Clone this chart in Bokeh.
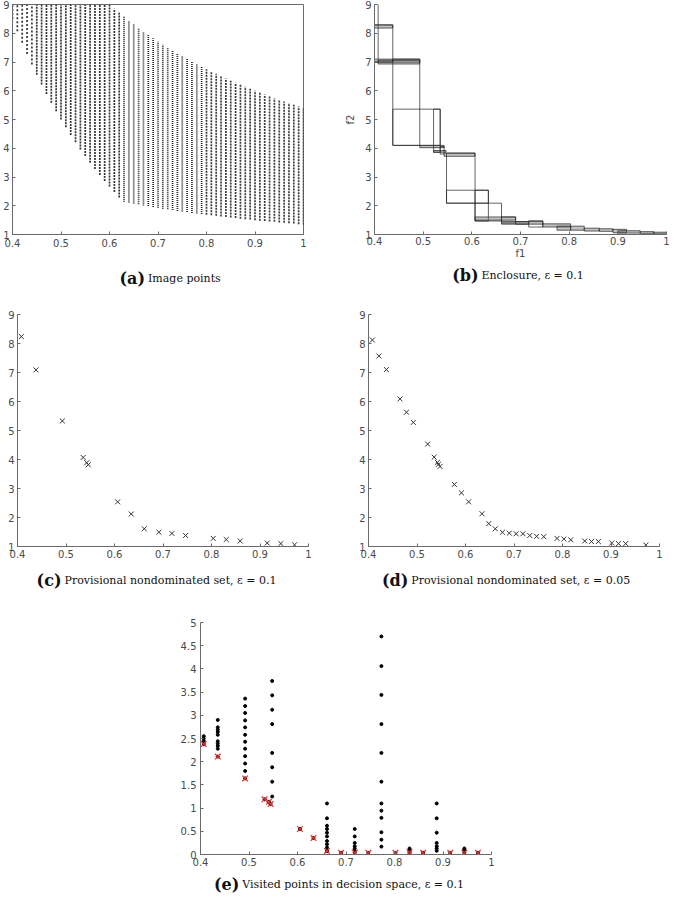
from bokeh.plotting import figure
from bokeh.models import FixedTicker, Range1d, Spacer, ColumnDataSource
from bokeh.layouts import column, row
from bokeh.core.properties import value
from bokeh.embed import file_html
from bokeh.resources import INLINE

# ---------------- data ----------------
x_ticks = [0.4, 0.5, 0.6, 0.7, 0.8, 0.9, 1.0]
f_y_ticks = [1, 2, 3, 4, 5, 6, 7, 8, 9]
e_y_ticks = [0, 0.5, 1, 1.5, 2, 2.5, 3, 3.5, 4, 4.5, 5]

img_f1 = [0.40, 0.41, 0.42, 0.43, 0.44, 0.45, 0.46, 0.47, 0.48, 0.49,
          0.50, 0.51, 0.52, 0.53, 0.54, 0.55, 0.56, 0.57, 0.58, 0.59,
          0.60, 0.61, 0.62, 0.63, 0.64, 0.65, 0.66, 0.67, 0.68, 0.69,
          0.70, 0.71, 0.72, 0.73, 0.74, 0.75, 0.76, 0.77, 0.78, 0.79,
          0.80, 0.81, 0.82, 0.83, 0.84, 0.85, 0.86, 0.87, 0.88, 0.89,
          0.90, 0.91, 0.92, 0.93, 0.94, 0.95, 0.96, 0.97, 0.98, 0.99, 1.00]
img_lo = [8.50, 8.07, 7.67, 7.28, 6.91, 6.56, 6.22, 5.89, 5.58, 5.29,
          5.00, 4.73, 4.46, 4.21, 3.96, 3.73, 3.50, 3.28, 3.07, 2.86,
          2.67, 2.48, 2.29, 2.14, 2.11, 2.08, 2.05, 2.01, 1.99, 1.96,
          1.93, 1.90, 1.88, 1.85, 1.82, 1.80, 1.78, 1.75, 1.73, 1.71,
          1.69, 1.67, 1.65, 1.63, 1.61, 1.59, 1.57, 1.55, 1.53, 1.52,
          1.50, 1.48, 1.47, 1.45, 1.44, 1.42, 1.41, 1.39, 1.38, 1.36, 1.35]
img_hi = [9.00, 9.00, 9.00, 9.00, 9.00, 9.00, 9.00, 9.00, 9.00, 9.00,
          9.00, 9.00, 9.00, 9.00, 9.00, 9.00, 9.00, 9.00, 9.00, 9.00,
          9.00, 8.85, 8.71, 8.57, 8.44, 8.31, 8.18, 8.06, 7.94, 7.83,
          7.71, 7.61, 7.50, 7.40, 7.30, 7.20, 7.11, 7.01, 6.92, 6.84,
          6.75, 6.67, 6.59, 6.51, 6.43, 6.35, 6.28, 6.21, 6.14, 6.07,
          6.00, 5.93, 5.87, 5.81, 5.74, 5.68, 5.63, 5.57, 5.51, 5.45, 5.40]

# (b) enclosure boxes
box_l = [0.400, 0.400, 0.400, 0.4075, 0.400, 0.4376, 0.4376, 0.493, 0.5214, 0.5214,
         0.535, 0.543, 0.548, 0.548, 0.6066, 0.6066, 0.6066, 0.661, 0.661, 0.690,
         0.717, 0.746, 0.775, 0.803, 0.831, 0.862, 0.890, 0.900, 0.946, 0.974]
box_r = [0.4075, 0.4376, 0.493, 0.493, 0.4376, 0.493, 0.535, 0.543, 0.535, 0.547,
         0.543, 0.6066, 0.6066, 0.634, 0.661, 0.634, 0.690, 0.717, 0.690, 0.746,
         0.746, 0.803, 0.803, 0.831, 0.862, 0.890, 0.918, 0.946, 0.974, 1.000]
box_b = [6.99, 8.18, 6.99, 6.93, 7.00, 4.10, 4.10, 4.02, 3.86, 3.86,
         3.80, 3.72, 2.09, 2.09, 1.47, 1.47, 1.50, 1.36, 1.40, 1.36,
         1.26, 1.26, 1.15, 1.15, 1.12, 1.11, 1.06, 1.05, 1.04, 1.02]
box_t = [9.00, 8.29, 7.10, 7.06, 8.29, 7.10, 5.36, 4.10, 5.36, 3.92,
         4.06, 3.83, 3.83, 2.54, 2.09, 2.54, 1.61, 1.45, 1.61, 1.45,
         1.48, 1.37, 1.29, 1.29, 1.22, 1.20, 1.18, 1.13, 1.10, 1.08]

# (c) provisional nondominated set, eps = 0.1
c_f1 = [0.408, 0.438, 0.4925, 0.5354, 0.5428, 0.546, 0.6065, 0.6346, 0.6614,
        0.6916, 0.7184, 0.7466, 0.8036, 0.8304, 0.8592, 0.9149, 0.943, 0.9712]
c_f2 = [8.24, 7.09, 5.33, 4.07, 3.89, 3.82, 2.54, 2.12, 1.61,
        1.49, 1.45, 1.38, 1.28, 1.24, 1.19, 1.12, 1.10, 1.06]

# (d) provisional nondominated set, eps = 0.05
d_f1 = [0.408, 0.4214, 0.4369, 0.465, 0.4784, 0.4925, 0.522, 0.5354, 0.542, 0.544,
        0.5475, 0.577, 0.5917, 0.6065, 0.634, 0.648, 0.6614, 0.6762, 0.6903, 0.7044,
        0.7184, 0.7325, 0.7466, 0.7613, 0.7888, 0.8029, 0.817, 0.8458, 0.8599, 0.874,
        0.9015, 0.9155, 0.9303, 0.9718]
d_f2 = [8.12, 7.57, 7.10, 6.09, 5.63, 5.28, 4.53, 4.08, 3.90, 3.83,
        3.76, 3.14, 2.85, 2.54, 2.13, 1.79, 1.61, 1.49, 1.46, 1.44,
        1.44, 1.38, 1.35, 1.34, 1.28, 1.26, 1.23, 1.19, 1.17, 1.17,
        1.12, 1.10, 1.10, 1.05]

# (e) visited points in decision space (columns of x1 with visited x2 values)
e_cols = [0.4067, 0.4356, 0.492, 0.5478, 0.6608, 0.718, 0.773, 0.831, 0.887, 0.944]
e_col_x2 = [
    [2.55, 2.50, 2.45],
    [2.90, 2.74, 2.69, 2.64, 2.58, 2.44, 2.39, 2.34, 2.28],
    [3.36, 3.20, 3.05, 2.89, 2.74, 2.58, 2.43, 2.28, 2.12, 1.96, 1.80],
    [3.74, 3.43, 3.12, 2.81, 2.19, 1.88, 1.57, 1.25],
    [1.10, 0.78, 0.62, 0.55, 0.47, 0.39, 0.29, 0.22, 0.15],
    [0.55, 0.39, 0.25, 0.18, 0.13, 0.08],
    [4.70, 4.06, 3.44, 2.81, 2.19, 1.57, 1.10, 0.945, 0.79, 0.48, 0.32, 0.17],
    [0.13, 0.10, 0.08],
    [1.10, 0.78, 0.47, 0.25, 0.18, 0.13, 0.08],
    [0.13, 0.10, 0.08],
]
e_nd_x1 = [0.4067, 0.4356, 0.492, 0.532, 0.541, 0.5445, 0.605, 0.633, 0.6608,
           0.690, 0.718, 0.746, 0.802, 0.831, 0.859, 0.915, 0.944, 0.972]
e_nd_x2 = [2.38, 2.11, 1.64, 1.19, 1.135, 1.086, 0.55, 0.353, 0.078,
           0.035, 0.042, 0.035, 0.035, 0.05, 0.035, 0.035, 0.042, 0.035]

# captions: (tag, text)
cap_a = ("(a)", "Image points")
cap_b = ("(b)", "Enclosure, \u03b5 = 0.1")
cap_c = ("(c)", "Provisional nondominated set, \u03b5 = 0.1")
cap_d = ("(d)", "Provisional nondominated set, \u03b5 = 0.05")
cap_e = ("(e)", "Visited points in decision space, \u03b5 = 0.1")

# ---------------- styling ----------------
AXC = "#6b6b6b"
LBLC = "#4a4a4a"
INK = "#333333"
CAP = "#111111"
W = 669


def new_fig(w, h, yr, bl, br, bt, bb):
    p = figure(width=w, height=h, x_range=Range1d(0.4, 1.0), y_range=Range1d(*yr),
               output_backend="svg", toolbar_location=None,
               min_border_left=bl, min_border_right=br,
               min_border_top=bt, min_border_bottom=bb)
    p.xgrid.visible = False
    p.ygrid.visible = False
    p.outline_line_color = None
    p.background_fill_color = "white"
    p.border_fill_color = "white"
    return p


def style_axis(ax, ticks, overrides, standoff=3):
    ax.ticker = FixedTicker(ticks=ticks)
    if overrides:
        ax.major_label_overrides = overrides
    ax.axis_line_color = AXC
    ax.axis_line_width = 1
    ax.major_tick_line_color = AXC
    ax.minor_tick_line_color = None
    ax.major_tick_in = 3
    ax.major_tick_out = 0
    ax.major_label_standoff = standoff
    ax.major_label_text_font = "DejaVu Sans"
    ax.major_label_text_font_size = "10px"
    ax.major_label_text_color = LBLC


def caption_fig(h, items):
    """items: (x_split_px, baseline_px, (tag, text)) in this strip's pixel frame"""
    p = figure(width=W, height=h, x_range=Range1d(0, W), y_range=Range1d(h, 0),
               output_backend="svg", toolbar_location=None, min_border=0,
               x_axis_location=None, y_axis_location=None)
    p.xgrid.visible = False
    p.ygrid.visible = False
    p.outline_line_color = None
    p.border_fill_color = "white"
    for xs, yb, (tag, text) in items:
        p.text(x=[xs - 1.5], y=[yb], text=[tag], text_align="right", text_baseline="alphabetic",
               text_font=value("DejaVu Serif"), text_font_style="bold",
               text_font_size="16px", text_color=CAP)
        p.text(x=[xs + 1.5], y=[yb], text=[text], text_align="left", text_baseline="alphabetic",
               text_font=value("DejaVu Serif"), text_font_style="normal",
               text_font_size="11px", text_color=CAP)
    return p


x_over = {1.0: "1"}
e_y_over = {0.0: "0", 1.0: "1", 2.0: "2", 3.0: "3", 4.0: "4", 5.0: "5"}

# ---------------- (a) ----------------
pa = new_fig(333, 261, (1, 9), 10, 30, 4, 26)
pa.outline_line_color = AXC
style_axis(pa.xaxis[0], x_ticks, x_over, standoff=4)
style_axis(pa.yaxis[0], f_y_ticks, None, standoff=3)
dash_groups = [(0.395, 0.445, "2 2", INK), (0.445, 0.625, "2 1", INK),
               (0.625, 0.795, "1 1", "#222222"), (0.795, 1.01, "2 1", "#3a3a3a")]
for g_lo, g_hi, dash, col in dash_groups:
    idx = [i for i, v in enumerate(img_f1) if g_lo <= v < g_hi]
    pa.segment(x0=[img_f1[i] for i in idx], y0=[img_lo[i] for i in idx],
               x1=[img_f1[i] for i in idx], y1=[img_hi[i] for i in idx],
               line_color=col, line_width=1.7, line_dash=dash, line_cap="butt")

# ---------------- (b) ----------------
pb = new_fig(336, 261, (1, 9), 41, 3, 4, 26)
style_axis(pb.xaxis[0], x_ticks, x_over, standoff=2)
style_axis(pb.yaxis[0], f_y_ticks, None, standoff=3)
for ax, lab in ((pb.xaxis[0], "f1"), (pb.yaxis[0], "f2")):
    ax.axis_label = lab
    ax.axis_label_text_font = "DejaVu Sans"
    ax.axis_label_text_font_size = "10px"
    ax.axis_label_text_font_style = "normal"
    ax.axis_label_text_color = LBLC
    ax.axis_label_standoff = 0
pb.yaxis[0].axis_label_standoff = 6
box_alpha = [0.45 if (t - b) < 0.16 else 0.0 for b, t in zip(box_b, box_t)]
bsrc = ColumnDataSource(dict(l=box_l, r=box_r, b=box_b, t=box_t, fa=box_alpha))
pb.quad(left="l", right="r", bottom="b", top="t", source=bsrc,
        fill_color="#777777", fill_alpha="fa", line_color="#222222",
        line_alpha=0.7, line_width=1)

cap1 = caption_fig(37, [(146.0, 17.2, cap_a), (479.5, 13.5, cap_b)])

# ---------------- (c) ----------------
pc = new_fig(340, 264, (1, 9), 17, 32, 15, 16)
style_axis(pc.xaxis[0], x_ticks, x_over, standoff=3)
style_axis(pc.yaxis[0], f_y_ticks, None, standoff=3)
pc.scatter(c_f1, c_f2, marker="x", size=7, line_color=INK, line_width=1)

# ---------------- (d) ----------------
pd = new_fig(329, 264, (1, 9), 28, 10, 16, 16)
style_axis(pd.xaxis[0], x_ticks, x_over, standoff=3)
style_axis(pd.yaxis[0], f_y_ticks, None, standoff=3)
pd.scatter(d_f1, d_f2, marker="x", size=7, line_color=INK, line_width=1)

cap2 = caption_fig(32, [(62.5, 17.9, cap_c), (409.3, 17.9, cap_d)])

# ---------------- (e) ----------------
pe = new_fig(331, 276, (0, 5), 30, 10, 28, 16)
style_axis(pe.xaxis[0], x_ticks, x_over, standoff=3)
style_axis(pe.yaxis[0], e_y_ticks, e_y_over, standoff=4)
ex = [c for c, vals in zip(e_cols, e_col_x2) for _ in vals]
ey = [v for vals in e_col_x2 for v in vals]
pe.scatter(ex, ey, marker="circle", size=3, fill_color="black", line_color="black")
pe.scatter(e_nd_x1, e_nd_x2, marker="circle", size=3, fill_color="black", line_color="black")
pe.scatter(e_nd_x1, e_nd_x2, marker="x", size=8, line_color="#e8302a", line_width=1.2)

cap3 = caption_fig(24, [(240.3, 14.0, cap_e)])

layout = column(row(pa, pb), cap1, row(pc, pd), cap2,
                row(Spacer(width=170, height=276), pe), cap3)

open("out.html", "w").write(file_html(layout, INLINE))
